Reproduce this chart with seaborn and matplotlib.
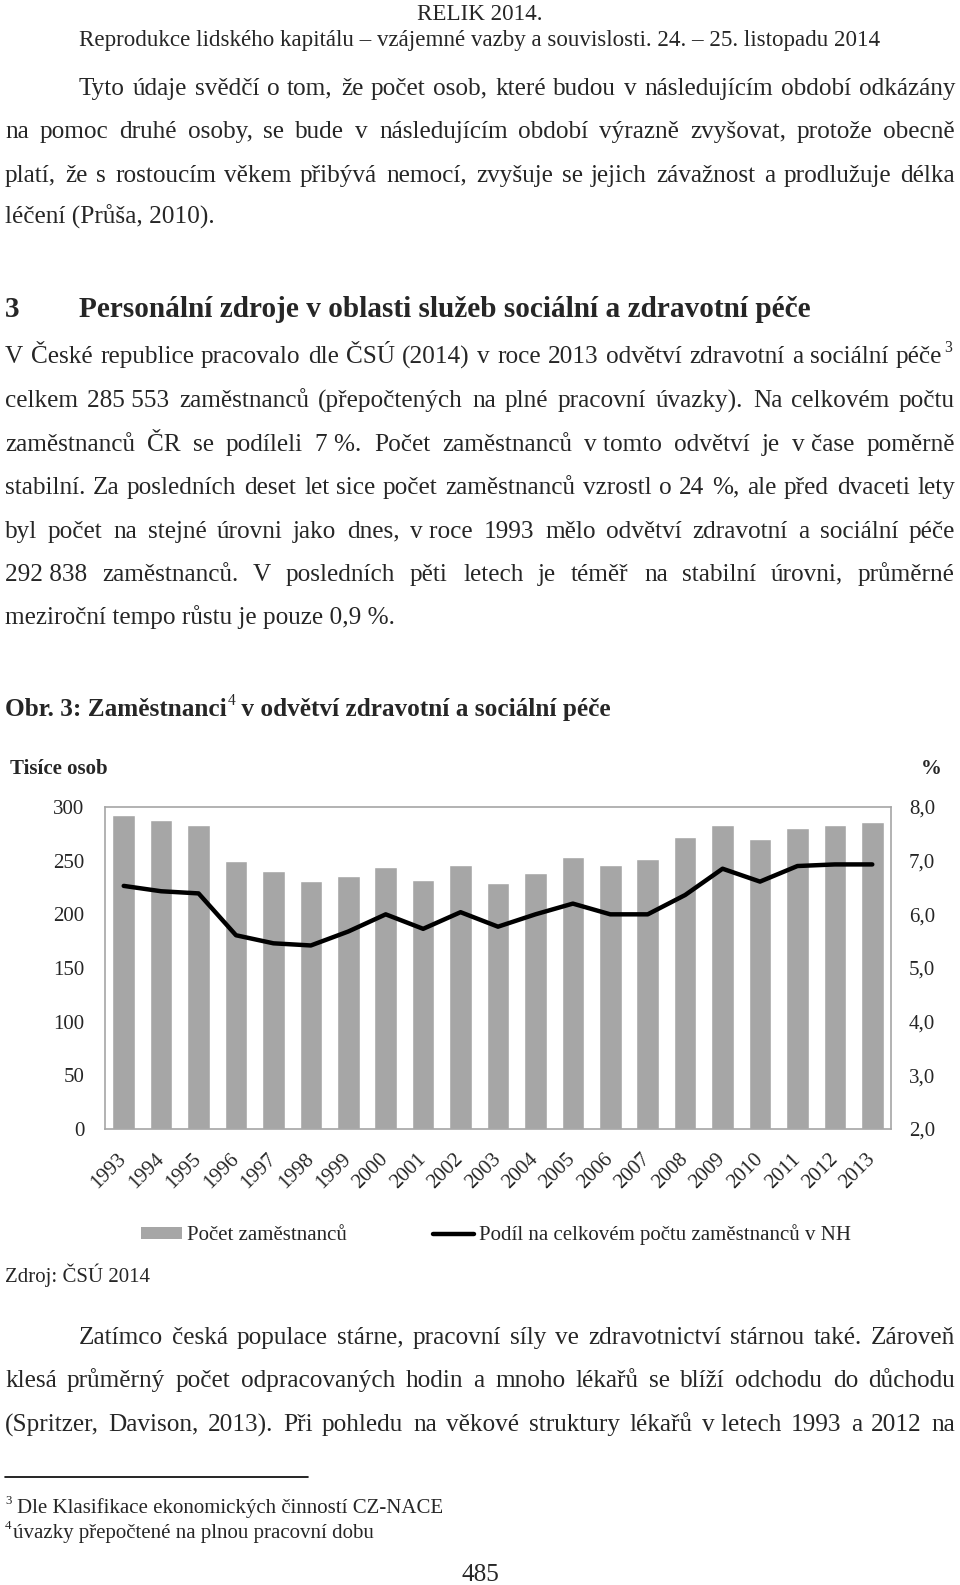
import math
import numpy as np
import pandas as pd
import matplotlib
matplotlib.use("Agg")
import matplotlib.pyplot as plt
import seaborn as sns
from matplotlib.patches import Patch
from matplotlib.lines import Line2D
from matplotlib import font_manager
from matplotlib.backends.backend_agg import get_hinting_flag

# ---------------- data ----------------
years = ["1993", "1994", "1995", "1996", "1997", "1998", "1999", "2000", "2001", "2002",
         "2003", "2004", "2005", "2006", "2007", "2008", "2009", "2010", "2011", "2012", "2013"]
employees = [292.8, 287.6, 283.5, 249.8, 240.5, 231.2, 235.5, 243.9, 232.4, 246.0,
             229.0, 238.3, 253.5, 246.0, 251.3, 272.4, 283.5, 269.9, 280.8, 282.9, 285.6]
share = [6.53, 6.43, 6.39, 5.61, 5.46, 5.42, 5.68, 6.00, 5.73, 6.04,
         5.77, 6.00, 6.20, 6.00, 6.00, 6.36, 6.85, 6.61, 6.90, 6.93, 6.93]
left_ticks = [0, 50, 100, 150, 200, 250, 300]
right_ticks = [2, 3, 4, 5, 6, 7, 8]
right_tick_labels = ["2,0", "3,0", "4,0", "5,0", "6,0", "7,0", "8,0"]
legend_labels = ["Počet zaměstnanců", "Podíl na celkovém počtu zaměstnanců v NH"]

df = pd.DataFrame({"year": years, "employees": employees, "share": share})

# ---------------- setup ----------------
sns.set_style("white")
plt.rcParams["font.family"] = "Liberation Serif"
W, H = 960, 1585
DPI = 100
fig = plt.figure(figsize=(9.6, 15.85), dpi=DPI)
renderer = fig.canvas.get_renderer()


def width_of(s, size, weight="normal"):
    t = fig.text(0, 0, s, fontsize=size, fontweight=weight)
    w = t.get_window_extent(renderer).width
    t.remove()
    return w


def fit(s, target, weight="normal"):
    return 10 * target / width_of(s, 10, weight)


def raster_shift(s, size, weight="normal"):
    """Pixel offset the Agg text rasteriser adds for this string (keeps word baselines level)."""
    try:
        prop = font_manager.FontProperties(family="Liberation Serif", size=size, weight=weight)
        font = font_manager.get_font(font_manager.findfont(prop))
        font.clear()
        font.set_size(size, DPI)
        font.set_text(s, 0, flags=get_hinting_flag())
        _, h = font.get_width_height()
        d = font.get_descent()
        B = d / 64.0
        A = (h - d) / 64.0
        return round(B) - (h // 64) + math.floor(A)
    except Exception:
        return 0


def put(x, y, s, size, weight="normal", ha="left", level=False):
    # y is the visual centre of the text line; place on an integer baseline
    yb = round(y + 0.33 * size * DPI / 72)
    if level:
        yb -= raster_shift(s, size, weight)
    return fig.text(x / W, 1 - yb / H, s, fontsize=size, fontweight=weight,
                    ha=ha, va="baseline")


def justify(line, y, x0, x1, size, weight="normal"):
    words = line.split(" ")
    ws = [width_of(w, size, weight) for w in words]
    gap = (x1 - x0 - sum(ws)) / (len(words) - 1)
    x = x0
    for w, wd in zip(words, ws):
        put(round(x), y, w, size, weight, level=True)
        x += wd + gap


NB = "\u00a0"
body = fit("meziroční tempo růstu je pouze 0,9 %.", 389)
header = fit("Reprodukce lidského kapitálu – vzájemné vazby a souvislosti. 24. – 25. listopadu 2014", 802)
heading = fit("Personální zdroje v oblasti služeb sociální a zdravotní péče", 734, "bold")
foot = fit("Dle Klasifikace ekonomických činností CZ-NACE", 426)
chart_fs = fit(legend_labels[1], 371)

L, R = 5, 955

# header
put(480, 12, "RELIK 2014.", header, ha="center")
put(480, 38, "Reprodukce lidského kapitálu – vzájemné vazby a souvislosti. 24. – 25. listopadu 2014",
    header, ha="center")

# paragraph 1
justify("Tyto údaje svědčí o tom, že počet osob, které budou v následujícím období odkázány", 87, 79, R, body)
justify("na pomoc druhé osoby, se bude v následujícím období výrazně zvyšovat, protože obecně", 130, L, R, body)
justify("platí, že s rostoucím věkem přibývá nemocí, zvyšuje se jejich závažnost a prodlužuje délka", 174, L, R, body)
put(L, 216, "léčení (Průša, 2010).", body)

# heading
put(L, 307, "3", heading, "bold")
put(79, 307, "Personální zdroje v oblasti služeb sociální a zdravotní péče", heading, "bold")

# paragraph 2
justify("V České republice pracovalo dle ČSÚ (2014) v roce 2013 odvětví zdravotní a sociální péče", 355, L, 942, body)
put(944, 347, "3", body * 0.62)
justify("celkem 285" + NB + "553 zaměstnanců (přepočtených na plné pracovní úvazky). Na celkovém počtu", 399, L, R, body)
justify("zaměstnanců ČR se podíleli 7" + NB + "%. Počet zaměstnanců v" + NB + "tomto odvětví je v" + NB + "čase poměrně", 443, L, R, body)
justify("stabilní. Za posledních deset let sice počet zaměstnanců vzrostl o 24 %, ale před dvaceti lety", 486, L, R, body)
justify("byl počet na stejné úrovni jako dnes, v" + NB + "roce 1993 mělo odvětví zdravotní a sociální péče", 530, L, R, body)
justify("292" + NB + "838 zaměstnanců. V posledních pěti letech je téměř na stabilní úrovni, průměrné", 573, L, R, body)
put(L, 616, "meziroční tempo růstu je pouze 0,9 %.", body)

# caption
cap1 = "Obr. 3: Zaměstnanci"
cap2 = " v odvětví zdravotní a sociální péče"
put(L, 708, cap1, body, "bold")
x = L + width_of(cap1, body, "bold")
put(x + 1, 700, "4", body * 0.62)
put(x + 1 + width_of("4", body * 0.62), 708, cap2, body, "bold")

# axis titles
put(10, 767, "Tisíce osob", chart_fs, "bold")
put(921, 767, "%", chart_fs, "bold")

# ---------------- chart ----------------
ax = fig.add_axes([105 / W, 1 - 1129 / H, 786 / W, 322 / H])
sns.barplot(data=df, x="year", y="employees", ax=ax, color="#a6a6a6",
            saturation=1, width=0.6, errorbar=None)
ax2 = ax.twinx()
sns.pointplot(data=df, x="year", y="share", ax=ax2, color="black", markers="",
              linewidth=3.2, errorbar=None, solid_capstyle="round")

ax.set_ylim(0, 300)
ax.set_yticks(left_ticks)
ax2.set_ylim(2, 8)
ax2.set_yticks(right_ticks)
ax2.set_yticklabels(right_tick_labels)
ax.set_xlim(-0.5, len(years) - 0.5)
for a in (ax, ax2):
    a.set_xlabel("")
    a.set_ylabel("")
    a.grid(False)
for sp in ax.spines.values():
    sp.set_visible(True)
    sp.set_color("#a6a6a6")
    sp.set_linewidth(1.2)
for sp in ax2.spines.values():
    sp.set_visible(False)

ax.tick_params(axis="y", length=0, pad=15, labelsize=chart_fs)
ax2.tick_params(axis="y", length=0, pad=13, labelsize=chart_fs)
ax.tick_params(axis="x", length=0, pad=20, labelsize=chart_fs)
for lbl in ax.get_xticklabels():
    lbl.set_rotation(45)
    lbl.set_ha("right")
    lbl.set_va("center")
    lbl.set_rotation_mode("anchor")

# legend
lf = chart_fs
lpx = lf * DPI / 72
handles = [Patch(facecolor="#a6a6a6", edgecolor="none"),
           Line2D([0], [0], color="black", lw=3.2)]
fig.legend(handles, legend_labels, loc="center left",
           bbox_to_anchor=(141 / W, 1 - 1235 / H), ncol=2, frameon=False,
           fontsize=lf, borderpad=0, borderaxespad=0,
           handlelength=41 / lpx, handleheight=0.5, handletextpad=5 / lpx,
           columnspacing=86 / lpx)

put(L, 1275, "Zdroj: ČSÚ 2014", chart_fs)

# paragraph 3
justify("Zatímco česká populace stárne, pracovní síly ve zdravotnictví stárnou také. Zároveň", 1336, 79, R, body)
justify("klesá průměrný počet odpracovaných hodin a mnoho lékařů se blíží odchodu do důchodu", 1379, L, R, body)
justify("(Spritzer, Davison, 2013). Při pohledu na věkové struktury lékařů v" + NB + "letech 1993 a 2012 na", 1423, L, R, body)

# footnotes
fig.add_artist(Line2D([5 / W, 308 / W], [1 - 1477 / H, 1 - 1477 / H], color="black", lw=1.2))
put(5, 1500, "3", foot * 0.62)
put(17, 1506, "Dle Klasifikace ekonomických činností CZ-NACE", foot)
put(5, 1525, "4", foot * 0.62)
put(13, 1531, "úvazky přepočtené na plnou pracovní dobu", foot)

put(480, 1573, "485", body, ha="center")

fig.savefig("out.png", dpi=DPI)
